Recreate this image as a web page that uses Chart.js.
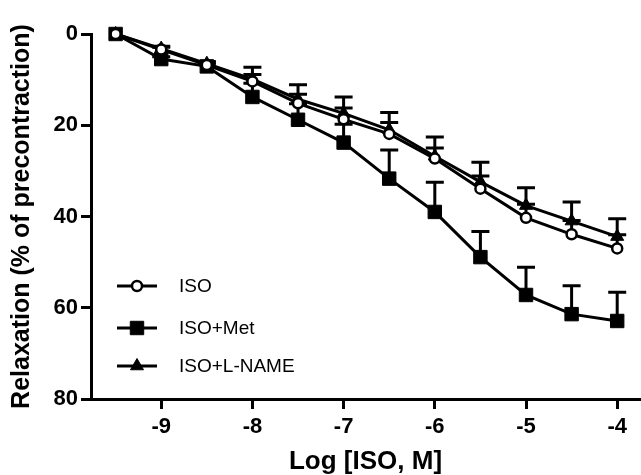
<!DOCTYPE html>
<html><head><meta charset="utf-8">
<script src="https://cdn.jsdelivr.net/npm/chart.js@4"></script>
<style>html,body{margin:0;padding:0;background:#fff;}#wrap{width:641px;height:475px;}</style>
</head><body><div id="wrap"><canvas id="c" width="641" height="475"></canvas></div>
<script>
// ---- data ----
const logConc = [-9.5, -9, -8.5, -8, -7.5, -7, -6.5, -6, -5.5, -5, -4.5, -4];
const isoMean   = [0, 3.4, 6.8, 10.4, 15.2, 18.7, 21.9, 27.3, 33.9, 40.3, 43.9, 47.0];
const isoSem    = [0, 0.5, 0.5, 1.5, 2.0, 2.5, 2.5, 2.3, 2.8, 3.0, 3.0, 3.0];
const metMean   = [0, 5.5, 7.1, 13.8, 18.8, 23.8, 31.7, 39.0, 48.9, 57.2, 61.4, 62.9];
const metSem    = [0, 0.5, 0.5, 3.0, 3.5, 4.0, 6.3, 6.5, 5.6, 6.1, 6.2, 6.3];
const lnameMean = [0, 3.2, 6.5, 9.9, 14.3, 17.4, 21.0, 26.8, 32.4, 37.6, 41.0, 44.4];
const lnameSem  = [0, 0.5, 0.5, 2.6, 3.2, 3.6, 3.8, 4.2, 4.3, 3.9, 4.2, 3.9];
const seriesNames = ['ISO', 'ISO+Met', 'ISO+L-NAME'];
const xTicks = [-9, -8, -7, -6, -5, -4];
const yTicks = [0, 20, 40, 60, 80];
const xTitle = 'Log [ISO, M]';
const yTitle = 'Relaxation (% of precontraction)';

const FONT = "'Liberation Sans', Arial, sans-serif";
const sems = [isoSem, metSem, lnameSem];
const toPts = arr => logConc.map((x, i) => ({x: x, y: arr[i]}));

const styles = [
  {pointStyle: 'circle', pointRadius: 5, pointBorderWidth: 2.5, pointBackgroundColor: '#fff'},
  {pointStyle: 'rect', pointRadius: 9.5, pointBorderWidth: 1, pointBackgroundColor: '#000'},
  {pointStyle: 'triangle', pointRadius: 7.5, pointBorderWidth: 1, pointBackgroundColor: '#000'}
];
const means = [isoMean, metMean, lnameMean];
const datasets = means.map((m, i) => Object.assign({
  label: seriesNames[i], data: toPts(m), borderColor: '#000', borderWidth: 3,
  pointBorderColor: '#000', tension: 0, clip: false, fill: false
}, styles[i]));

const errorBars = {
  id: 'errorBars',
  beforeDatasetsDraw(chart) {
    const {ctx, scales: {x, y}} = chart;
    ctx.save();
    ctx.strokeStyle = '#000'; ctx.lineWidth = 3; ctx.lineCap = 'butt';
    chart.data.datasets.forEach((ds, i) => {
      ds.data.forEach((p, j) => {
        const s = sems[i][j]; if (!s) return;
        const px = x.getPixelForValue(p.x), py = y.getPixelForValue(p.y), pe = y.getPixelForValue(p.y - s);
        ctx.beginPath();
        ctx.moveTo(px, py); ctx.lineTo(px, pe);
        ctx.moveTo(px - 9, pe); ctx.lineTo(px + 9, pe);
        ctx.stroke();
      });
    });
    ctx.restore();
  }
};

function marker(ctx, st, cx, cy) {
  ctx.save();
  ctx.fillStyle = st.pointBackgroundColor; ctx.strokeStyle = '#000'; ctx.lineWidth = st.pointBorderWidth;
  const r = st.pointRadius;
  ctx.beginPath();
  if (st.pointStyle === 'circle') ctx.arc(cx, cy, r, 0, Math.PI * 2);
  else if (st.pointStyle === 'rect') { const s = Math.SQRT1_2 * r; ctx.rect(cx - s, cy - s, 2 * s, 2 * s); }
  else { ctx.moveTo(cx, cy - r); ctx.lineTo(cx + r * Math.sqrt(3) / 2, cy + r / 2); ctx.lineTo(cx - r * Math.sqrt(3) / 2, cy + r / 2); ctx.closePath(); }
  ctx.fill(); ctx.stroke();
  ctx.restore();
}

const legendRows = [286, 328, 366];
const legendPlugin = {
  id: 'customLegend',
  afterDraw(chart) {
    const ctx = chart.ctx;
    ctx.save();
    chart.data.datasets.forEach((ds, i) => {
      const yy = legendRows[i];
      ctx.strokeStyle = '#000'; ctx.lineWidth = 3;
      ctx.beginPath(); ctx.moveTo(117, yy); ctx.lineTo(157, yy); ctx.stroke();
      marker(ctx, styles[i], 137, yy);
      ctx.fillStyle = '#000'; ctx.font = '19px ' + FONT; ctx.textBaseline = 'middle'; ctx.textAlign = 'left';
      ctx.fillText(ds.label, 179, yy + 1);
    });
    ctx.restore();
  }
};

new Chart(document.getElementById('c'), {
  type: 'line',
  data: {datasets: datasets},
  options: {
    responsive: false, animation: false,
    layout: {autoPadding: false, padding: {top: 34, right: 1, left: 0, bottom: 0}},
    plugins: {legend: {display: false}, tooltip: {enabled: false}},
    scales: {
      x: {
        type: 'linear', min: -9.77, max: -3.75,
        afterBuildTicks: s => { s.ticks = xTicks.map(v => ({value: v})); },
        afterFit: s => { s.height = 76; },
        grid: {drawOnChartArea: false, drawTicks: true, tickLength: 10, lineWidth: 3, tickWidth: 3, color: '#000'},
        border: {display: true, color: '#000', width: 3},
        ticks: {color: '#000', padding: 5, font: {family: FONT, size: 22, weight: 'bold'}, callback: v => String(v)},
        title: {display: true, text: xTitle, color: '#000', padding: {top: 0, bottom: 0}, font: {family: FONT, size: 26, weight: 'bold', lineHeight: 1}}
      },
      y: {
        type: 'linear', min: 0, max: 80, reverse: true,
        afterBuildTicks: s => { s.ticks = yTicks.map(v => ({value: v})); },
        afterFit: s => { s.width = 91; },
        grid: {drawOnChartArea: false, drawTicks: true, tickLength: 10, lineWidth: 3, tickWidth: 3, color: '#000'},
        border: {display: true, color: '#000', width: 3},
        ticks: {color: '#000', padding: 3, font: {family: FONT, size: 22, weight: 'bold'}},
        title: {display: true, text: yTitle, color: '#000', padding: {top: 7, bottom: 0}, font: {family: FONT, size: 25, weight: 'bold'}}
      }
    }
  },
  plugins: [errorBars, legendPlugin]
});
</script></body></html>
